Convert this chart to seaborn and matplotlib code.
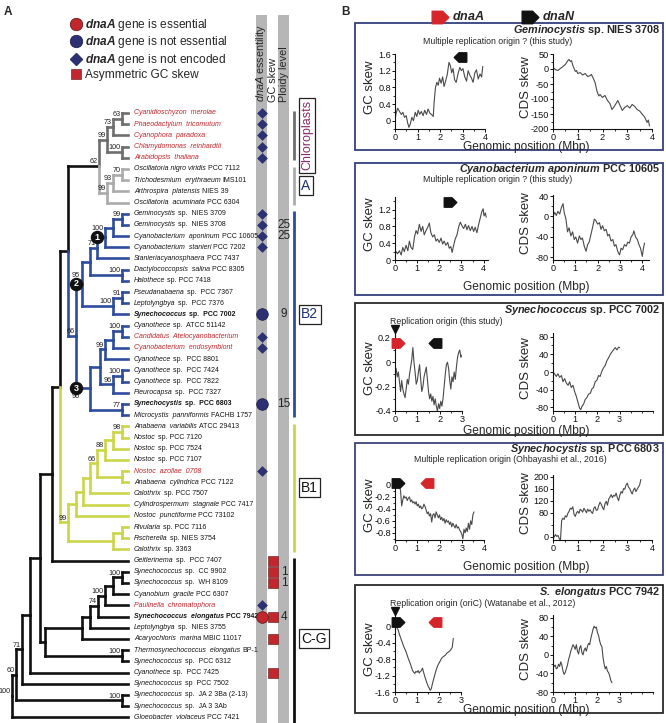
import numpy as np
import matplotlib
matplotlib.use("Agg")
import matplotlib.pyplot as plt
import seaborn as sns
from matplotlib import font_manager
from matplotlib.lines import Line2D
from matplotlib.patches import Rectangle
from matplotlib.path import Path
from matplotlib.ticker import MultipleLocator, FuncFormatter
from matplotlib.transforms import offset_copy

# --- DATA: panel A (tree leaves, top to bottom) ---
LEAF_ITALIC = [
    "Cyanidioschyzon  merolae", "Phaeodactylum  tricomutum", "Cyanophora  paradoxa",
    "Chlamydomonas  reinhardtii", "Arabidopsis  thaliana",
    "Oscillatoria nigro viridis", "Trichodesmium  erythraeum", "Arthrospira  platensis",
    "Oscillatoria  acuminata",
    "Geminocystis", "Geminocystis", "Cyanobacterium  aponinum", "Cyanobacterium  stanieri",
    "Stanieriacyanosphaera", "Dactylococcopsis  salina", "Halothece", "Pseudanabaena",
    "Leptolyngbya", "Synechococcus", "Cyanothece", "Candidatus  Atelocyanobacterium",
    "Cyanobacterium  endosymbiont", "Cyanothece", "Cyanothece", "Cyanothece", "Pleurocapsa",
    "Synechocystis", "Microcystis  panniformis",
    "Anabaena  variabilis", "Nostoc", "Nostoc", "Nostoc", "Nostoc  azollae  0708",
    "Anabaena  cylindrica", "Calothrix", "Cylindrospermum  stagnale", "Nostoc  punctiforme",
    "Rivularia", "Fischerella", "Calothrix",
    "Geitlerinema", "Synechococcus", "Synechococcus", "Cyanobium  gracile",
    "Paulinella  chromatophora", "Synechococcus  elongatus", "Leptolyngbya",
    "Acaryochloris  marina", "Thermosynechococcus  elongatus", "Synechococcus", "Cyanothece",
    "Synechococcus", "Synechococcus", "Synechococcus", "Gloeobacter  violaceus",
]
LEAF_STRAIN = [
    "", "", "", "", "",
    "PCC 7112", "IMS101", "NIES 39", "PCC 6304",
    "sp.  NIES 3709", "sp.  NIES 3708", "PCC 10605", "PCC 7202", "PCC 7437", "PCC 8305",
    "sp. PCC 7418", "sp.  PCC 7367", "sp.  PCC 7376", "sp.  PCC 7002", "sp.  ATCC 51142",
    "", "", "sp.  PCC 8801", "sp.  PCC 7424", "sp.  PCC 7822", "sp.  PCC 7327",
    "sp.  PCC 6803", "FACHB 1757",
    "ATCC 29413", "sp. PCC 7120", "sp. PCC 7524", "sp. PCC 7107", "", "PCC 7122",
    "sp. PCC 7507", "PCC 7417", "PCC 73102", "sp. PCC 7116", "sp. NIES 3754", "sp. 3363",
    "sp.  PCC 7407", "sp.  CC 9902", "sp.  WH 8109", "PCC 6307", "", "PCC 7942",
    "sp.  NIES 3755", "MBIC 11017", "BP-1", "sp.  PCC 6312", "sp.  PCC 7425",
    "sp  PCC 7502", "sp.  JA 2 3Ba (2-13)", "sp.  JA 3 3Ab", "PCC 7421",
]
RED_LEAVES = [0, 1, 2, 3, 4, 20, 21, 32, 44]
BOLD_LEAVES = [18, 26, 45]
LEAF_CLADE = ["chloro"] * 5 + ["A"] * 4 + ["B2"] * 19 + ["B1"] * 12 + ["CG"] * 15

DNAA_ABSENT = [0, 1, 2, 3, 4, 9, 10, 11, 12, 20, 21, 32, 44]
DNAA_NONESSENTIAL = [18, 26]
DNAA_ESSENTIAL = [45]
GC_ASYMMETRIC = [40, 41, 42, 45, 47, 50]
PLOIDY_ROWS = [10, 11, 18, 26, 41, 42, 45]
PLOIDY_VALUES = ["25", "25", "9", "15", "1", "1", "4"]

CLADE_NAMES = ["Chloroplasts", "A", "B2", "B1", "C-G"]
CLADE_KEYS = ["chloro", "A", "B2", "B1", "CG"]


def N(depth, boot, *kids, mark=None, side="above"):
    return {"x": depth, "bs": boot, "kids": list(kids), "mark": mark, "side": side}


CHLORO = N(107, 99, N(113, 73, N(122, 63, 0, 1), 2), N(122, 100, 3, 4))
ACLADE = N(107, 99, N(113, 93, N(122, 70, 5, 6), 7), 8)
B2_UP = N(82, 95,
          N(90, None,
            N(97, 71, N(105, 100, N(113, None, N(122, 99, 9, 10), 11), 12, mark=1), 13),
            N(122, 100, 14, 15)),
          N(113, 100, N(122, 91, 16, 17), 18), mark=2)
B2_LOW = N(90, 96,
           N(100, None,
             N(105, 99, N(113, None, N(122, 100, 19, 20), 21), 22),
             N(113, 96, N(122, 100, 23, 24), 25)),
           N(122, 77, 26, 27), mark=3, side="below")
B2 = N(76, 66, B2_UP, B2_LOW)
B1 = N(68, 99,
       N(76, None, N(83, None, N(90, None,
         N(97, 66, N(105, 88, N(113, None, N(122, 98, 28, 29), 30), 31), N(122, None, 32, 33)),
         34), 35), 36),
       N(113, None, N(122, None, 37, 38), 39))
SYN = N(82, None, N(90, None, N(98, 74, N(105, 100, N(113, None, N(122, 100, 41, 42), 43), 44), 45), 46), 47)
TREE = N(12, 100,
         N(16, 60,
           N(22, 71,
             N(30, None,
               N(40, None,
                 N(52, None, N(60, None, N(68, None, N(99, 62, CHLORO, ACLADE), B2), B1), 40),
                 N(45, None, SYN, N(122, 100, 48, 49))),
               50),
             51),
           N(122, 100, 52, 53)),
         54)

# --- DATA: panel B (genomic position in Mbp, skew value) ---
GEM_GC = [(0, 0.02), (0.05, 0.18), (0.12, 0.3), (0.2, 0.22), (0.28, 0.15), (0.35, 0.2), (0.42, 0.08),
          (0.5, 0.12), (0.56, -0.05), (0.62, -0.16), (0.68, -0.08), (0.75, 0.08), (0.82, 0.0), (0.9, 0.2),
          (0.97, 0.1), (1.03, 0.25), (1.1, 0.15), (1.17, 0.22), (1.25, 0.12), (1.32, 0.25), (1.4, 0.15),
          (1.47, 0.28), (1.55, 0.18), (1.62, 0.15), (1.7, 0.1), (1.74, 0.45), (1.8, 0.8), (1.86, 0.92),
          (1.92, 0.85), (1.98, 1.02), (2.05, 0.9), (2.12, 1.05), (2.18, 0.82), (2.25, 0.95), (2.32, 1.1),
          (2.4, 1.4), (2.46, 1.32), (2.52, 1.15), (2.58, 1.25), (2.65, 0.98), (2.72, 0.92), (2.8, 1.12),
          (2.88, 1.28), (2.95, 1.2), (3.02, 1.25), (3.1, 1.05), (3.18, 0.95), (3.25, 1.2), (3.32, 1.1),
          (3.4, 1.02), (3.47, 0.92), (3.55, 1.15), (3.62, 1.22), (3.7, 1.0), (3.78, 1.12), (3.85, 1.05),
          (3.9, 1.3)]
GEM_CDS = [(0, 5), (0.1, -2), (0.2, -5), (0.3, 2), (0.4, 8), (0.5, 15), (0.6, 28), (0.65, 32), (0.7, 25),
           (0.75, 28), (0.8, 12), (0.9, -8), (0.95, -5), (1.0, -15), (1.1, -12), (1.2, -20), (1.3, -15),
           (1.4, -25), (1.5, -22), (1.55, -18), (1.62, -30), (1.7, -45), (1.78, -75), (1.85, -90),
           (1.9, -85), (2.0, -95), (2.1, -88), (2.2, -105), (2.3, -115), (2.38, -135), (2.45, -128),
           (2.55, -115), (2.62, -105), (2.7, -120), (2.8, -138), (2.9, -128), (3.0, -122), (3.1, -130),
           (3.2, -118), (3.3, -125), (3.4, -135), (3.5, -140), (3.6, -150), (3.7, -160), (3.8, -178),
           (3.85, -170), (3.9, -190)]
APO_GC = [(0, 0.1), (0.05, 0.2), (0.12, 0.15), (0.2, 0.22), (0.28, 0.12), (0.35, 0.3), (0.42, 0.2),
          (0.5, 0.35), (0.58, 0.22), (0.65, 0.45), (0.72, 0.3), (0.8, 0.25), (0.88, 0.55), (0.95, 0.7),
          (1.02, 0.62), (1.1, 0.85), (1.18, 0.68), (1.25, 0.8), (1.32, 0.6), (1.4, 0.7), (1.48, 0.78),
          (1.55, 0.88), (1.62, 0.65), (1.7, 0.55), (1.78, 0.6), (1.85, 0.45), (1.92, 0.5), (2.0, 0.42),
          (2.08, 0.52), (2.15, 0.38), (2.22, 0.45), (2.3, 0.35), (2.38, 0.42), (2.45, 0.28), (2.52, 0.32),
          (2.58, 0.18), (2.65, 0.35), (2.72, 0.5), (2.8, 0.6), (2.88, 0.8), (2.95, 0.9), (3.02, 0.82),
          (3.1, 0.75), (3.18, 0.85), (3.25, 0.72), (3.32, 0.82), (3.4, 0.7), (3.48, 0.8), (3.55, 0.68),
          (3.62, 0.78), (3.7, 0.65), (3.78, 0.85), (3.85, 1.0), (3.92, 1.15), (3.98, 1.22), (4.02, 1.05),
          (4.08, 1.12), (4.12, 1.02)]
APO_CDS = [(0, 0), (0.08, 8), (0.15, 2), (0.22, 10), (0.3, 5), (0.38, 18), (0.45, 25), (0.5, 8), (0.58, -5),
           (0.65, -30), (0.72, -22), (0.8, -38), (0.88, -30), (0.95, -45), (1.02, -40), (1.1, -52),
           (1.18, -38), (1.25, -45), (1.32, -42), (1.4, -58), (1.48, -68), (1.55, -55), (1.62, -50),
           (1.7, -35), (1.78, -20), (1.85, -5), (1.92, -8), (2.0, -15), (2.08, -12), (2.15, -25),
           (2.22, -18), (2.3, -28), (2.38, -25), (2.45, -38), (2.52, -35), (2.6, -48), (2.68, -45),
           (2.75, -58), (2.82, -55), (2.9, -68), (2.98, -75), (3.05, -62), (3.12, -65), (3.2, -55),
           (3.28, -58), (3.35, -50), (3.42, -52), (3.5, -40), (3.58, -35), (3.62, -28), (3.7, -40),
           (3.78, -45), (3.85, -55), (3.92, -62), (4.0, -78), (4.05, -62), (4.1, -52)]
S7002_GC = [(0, -0.1), (0.05, -0.05), (0.1, -0.12), (0.15, -0.08), (0.2, -0.16), (0.25, -0.24), (0.3, -0.15),
            (0.35, -0.22), (0.4, -0.26), (0.45, -0.29), (0.5, -0.22), (0.55, -0.14), (0.6, -0.18),
            (0.65, -0.1), (0.7, -0.04), (0.75, 0.02), (0.8, 0.12), (0.85, 0.0), (0.9, -0.08), (0.95, -0.18),
            (1.0, -0.15), (1.05, -0.08), (1.1, -0.02), (1.15, -0.14), (1.2, -0.24), (1.25, -0.2),
            (1.3, -0.12), (1.35, -0.08), (1.4, -0.04), (1.45, -0.14), (1.5, -0.24), (1.55, -0.3),
            (1.6, -0.26), (1.65, -0.32), (1.7, -0.28), (1.75, -0.35), (1.8, -0.3), (1.85, -0.36),
            (1.9, -0.4), (1.95, -0.34), (2.0, -0.38), (2.05, -0.32), (2.1, -0.36), (2.15, -0.3),
            (2.2, -0.2), (2.25, -0.1), (2.3, -0.02), (2.35, 0.0), (2.4, -0.05), (2.45, -0.15),
            (2.5, -0.22), (2.55, -0.12), (2.6, -0.16), (2.65, -0.08), (2.7, -0.14), (2.75, -0.04),
            (2.8, 0.04), (2.85, 0.08), (2.9, 0.1), (2.95, 0.04), (3.0, 0.06)]
S7002_CDS = [(0, 0), (0.08, -5), (0.15, -10), (0.22, -4), (0.3, -12), (0.38, -8), (0.45, -22), (0.52, -15),
             (0.6, -25), (0.68, -30), (0.75, -22), (0.82, -35), (0.9, -30), (0.98, -45), (1.05, -55),
             (1.12, -68), (1.2, -82), (1.25, -85), (1.3, -78), (1.38, -72), (1.45, -62), (1.52, -58),
             (1.6, -50), (1.68, -48), (1.75, -38), (1.82, -35), (1.9, -22), (1.98, -18), (2.05, -8),
             (2.12, -10), (2.2, 2), (2.28, 10), (2.35, 15), (2.42, 25), (2.5, 32), (2.58, 40), (2.65, 45),
             (2.72, 50), (2.8, 55), (2.88, 50), (2.95, 56), (3.0, 55)]
S6803_GC = [(0, 0.05), (0.08, 0.06), (0.15, 0.02), (0.2, -0.02), (0.25, -0.1), (0.3, -0.35), (0.35, -0.25),
            (0.4, -0.18), (0.45, -0.22), (0.5, -0.2), (0.55, -0.26), (0.6, -0.22), (0.65, -0.2), (0.7, -0.28),
            (0.75, -0.25), (0.8, -0.3), (0.85, -0.28), (0.9, -0.32), (0.95, -0.28), (1.0, -0.35),
            (1.05, -0.32), (1.1, -0.38), (1.15, -0.35), (1.2, -0.4), (1.25, -0.38), (1.3, -0.32),
            (1.35, -0.36), (1.4, -0.42), (1.45, -0.48), (1.5, -0.45), (1.55, -0.52), (1.6, -0.48),
            (1.65, -0.62), (1.7, -0.5), (1.75, -0.48), (1.8, -0.55), (1.85, -0.45), (1.9, -0.5),
            (1.95, -0.55), (2.0, -0.5), (2.05, -0.58), (2.1, -0.54), (2.15, -0.6), (2.2, -0.56),
            (2.25, -0.64), (2.3, -0.58), (2.35, -0.62), (2.4, -0.6), (2.45, -0.66), (2.5, -0.62),
            (2.55, -0.7), (2.6, -0.64), (2.65, -0.68), (2.7, -0.72), (2.75, -0.66), (2.8, -0.72),
            (2.85, -0.7), (2.9, -0.75), (2.95, -0.78), (3.0, -0.82), (3.05, -0.9), (3.1, -0.74),
            (3.15, -0.8), (3.2, -0.72), (3.25, -0.78), (3.3, -0.64), (3.35, -0.74), (3.4, -0.6),
            (3.45, -0.66), (3.5, -0.5), (3.55, -0.45)]
S6803_CDS = [(0, 10), (0.05, 0), (0.1, 8), (0.15, 2), (0.2, 5), (0.25, -5), (0.3, -12), (0.35, 55), (0.4, 62),
             (0.45, 58), (0.5, 70), (0.55, 66), (0.6, 78), (0.65, 85), (0.7, 95), (0.75, 92), (0.8, 100),
             (0.85, 75), (0.9, 68), (0.95, 80), (1.0, 85), (1.05, 78), (1.1, 92), (1.15, 88), (1.2, 82),
             (1.25, 95), (1.3, 88), (1.35, 80), (1.4, 92), (1.45, 85), (1.5, 90), (1.55, 82), (1.6, 78),
             (1.65, 95), (1.7, 100), (1.75, 88), (1.8, 90), (1.85, 105), (1.9, 115), (1.95, 108), (2.0, 98),
             (2.05, 90), (2.1, 110), (2.15, 118), (2.2, 105), (2.25, 125), (2.3, 132), (2.35, 140),
             (2.4, 130), (2.45, 138), (2.5, 135), (2.55, 145), (2.6, 130), (2.65, 120), (2.7, 138),
             (2.75, 150), (2.8, 145), (2.85, 160), (2.9, 158), (2.95, 172), (3.0, 178), (3.05, 165),
             (3.1, 160), (3.15, 150), (3.2, 142), (3.25, 155), (3.3, 162), (3.35, 150), (3.4, 158),
             (3.45, 165), (3.5, 172), (3.55, 190)]
S7942_GC = [(0, 0.05), (0.05, 0.0), (0.1, -0.05), (0.15, -0.1), (0.2, -0.2), (0.3, -0.35), (0.4, -0.5),
            (0.5, -0.62), (0.6, -0.78), (0.7, -0.92), (0.8, -1.08), (0.85, -1.12), (0.9, -1.15), (0.95, -1.1),
            (1.0, -1.12), (1.05, -1.08), (1.1, -1.14), (1.15, -1.1), (1.2, -1.08), (1.25, -1.02),
            (1.3, -1.12), (1.35, -1.22), (1.4, -1.3), (1.45, -1.38), (1.5, -1.45), (1.55, -1.5),
            (1.6, -1.56), (1.65, -1.52), (1.7, -1.4), (1.75, -1.3), (1.8, -1.2), (1.85, -1.1),
            (1.9, -1.02), (1.95, -0.95), (2.0, -0.9), (2.05, -0.85), (2.1, -0.8), (2.15, -0.76),
            (2.2, -0.74), (2.25, -0.72), (2.3, -0.7), (2.35, -0.66), (2.4, -0.64), (2.45, -0.62),
            (2.5, -0.6), (2.55, -0.56), (2.6, -0.52), (2.65, -0.3)]
S7942_CDS = [(0, -18), (0.05, -25), (0.1, -22), (0.15, -30), (0.2, -28), (0.25, -20), (0.3, -25), (0.35, -15),
             (0.4, -22), (0.45, -35), (0.5, -42), (0.55, -38), (0.6, -30), (0.65, -22), (0.7, -10),
             (0.75, -2), (0.8, 8), (0.85, 15), (0.9, 22), (0.95, 18), (1.0, 12), (1.05, 22), (1.1, 8),
             (1.15, 2), (1.2, 15), (1.25, 20), (1.3, 5), (1.35, 0), (1.4, 10), (1.45, 15), (1.5, 8),
             (1.55, 18), (1.6, 25), (1.65, 22), (1.7, 35), (1.75, 45), (1.8, 55), (1.85, 62), (1.9, 58),
             (1.95, 60), (2.0, 48), (2.05, 42), (2.1, 30), (2.15, 22), (2.2, 18), (2.25, -5), (2.3, -20),
             (2.35, -30), (2.4, -25), (2.45, -35), (2.5, -38), (2.55, -45), (2.6, -55), (2.65, -60)]

GC_CURVES = [GEM_GC, APO_GC, S7002_GC, S6803_GC, S7942_GC]
CDS_CURVES = [GEM_CDS, APO_CDS, S7002_CDS, S6803_CDS, S7942_CDS]
TITLE_GENUS = ["Geminocystis", "Cyanobacterium\\ aponinum", "Synechococcus", "Synechocystis", "S.\\ elongatus"]
TITLE_STRAIN = ["sp. NIES 3708", "PCC 10605", "sp. PCC 7002", "sp. PCC 6803", "PCC 7942"]
NOTES = ["Multiple replication origin ? (this study)", "Multiple replication origin ? (this study)",
         "Replication origin (this study)", "Multiple replication origin (Ohbayashi et al., 2016)",
         "Replication origin (oriC) (Watanabe et al., 2012)"]
ORIGIN_AT_ZERO = [False, False, True, False, True]
# gene, position (Mbp), skew level, orientation
GENE_MARKS = [
    [("dnaN", 2.9, 1.52, "L")],
    [("dnaN", 2.5, 1.38, "R")],
    [("dnaA", 0.12, 0.16, "R"), ("dnaN", 1.8, 0.16, "L")],
    [("dnaN", 0.15, 0.03, "R"), ("dnaA", 1.45, 0.03, "L")],
    [("dnaN", 0.15, 0.09, "R"), ("dnaA", 1.8, 0.09, "L")],
]
GC_YTICKS = [[0, 0.4, 0.8, 1.2, 1.6], [0, 0.4, 0.8, 1.2], [-0.4, -0.2, 0, 0.2],
             [-0.8, -0.6, -0.4, -0.2, 0], [-1.6, -1.2, -0.8, -0.4, 0]]
CDS_YTICKS = [[-200, -150, -100, -50, 0, 50], [-80, -40, 0, 40], [-80, -40, 0, 40, 80],
              [0, 80, 120, 160, 200], [-80, -40, 0, 40, 80]]
GC_XTICKS = [4, 4, 3, 4, 3]
CDS_XTICKS = [4, 4, 3, 4, 3]

# --- STYLE / LAYOUT ---
sns.set_theme(style="ticks")
plt.rcParams["font.family"] = ["Liberation Sans", "DejaVu Sans"]
plt.rcParams["mathtext.fontset"] = "custom"
plt.rcParams["mathtext.rm"] = "Liberation Sans"
plt.rcParams["mathtext.it"] = "Liberation Sans:italic"
plt.rcParams["mathtext.bf"] = "Liberation Sans:bold"
plt.rcParams["mathtext.bfit"] = "Liberation Sans:bold:italic"

_installed = {f.name for f in font_manager.fontManager.ttflist}
NARROW = "Liberation Sans Narrow" if "Liberation Sans Narrow" in _installed else "Liberation Sans"
LEAF_SIZE = 5.8 if NARROW == "Liberation Sans Narrow" else 5.0

RED = "#c1272d"
NAVY = "#2b3173"
CLADE_COLORS = {"chloro": "#6e6e6e", "A": "#ababab", "B2": "#2e4c9e", "B1": "#cbd54a", "CG": "#111111"}
CLADE_TEXT = ["#8a2c70", "#1f2f73", "#1f2f73", "#111111", "#111111"]
W, H = 666, 723
ROW0, ROW_H = 113, 11.19
TIP_X = 128

fig = plt.figure(figsize=(W / 100, H / 100), dpi=100)


def px_axes(l, t, r, b, **kw):
    return fig.add_axes([l / W, 1 - b / H, (r - l) / W, (b - t) / H], **kw)


ov = px_axes(0, 0, W, H)
ov.set_xlim(0, W)
ov.set_ylim(H, 0)
ov.axis("off")

tr = px_axes(0, 0, 340, H)
tr.set_xlim(0, 340)
tr.set_ylim((H - ROW0) / ROW_H, -ROW0 / ROW_H)
tr.axis("off")


# ---------- tree ----------
def place(node):
    if isinstance(node, int):
        return node
    ys = [place(k) for k in node["kids"]]
    node["y"] = (ys[0] + ys[-1]) / 2
    return node["y"]


def node_y(n):
    return n if isinstance(n, int) else n["y"]


def node_x(n):
    return TIP_X if isinstance(n, int) else n["x"]


def node_color(n):
    if isinstance(n, int):
        return CLADE_COLORS[LEAF_CLADE[n]]
    cols = {node_color(k) for k in n["kids"]}
    return cols.pop() if len(cols) == 1 else CLADE_COLORS["CG"]


def draw(node, parent_x=None):
    x, y = node["x"], node["y"]
    for kid in node["kids"]:
        c = node_color(kid)
        ky = node_y(kid)
        tr.plot([x, node_x(kid)], [ky, ky], color=c, lw=1.9, solid_capstyle="projecting")
        tr.plot([x, x], [y, ky], color=c, lw=1.9, solid_capstyle="projecting")
        if not isinstance(kid, int):
            draw(kid, x)
    if node["mark"] is not None:
        tr.scatter([parent_x], [y], s=75, color="#111111", zorder=6)
        tr.text(parent_x, y, str(node["mark"]), color="white", fontsize=6.5, fontweight="bold",
                ha="center", va="center", zorder=7)
        dy = 6.2 if node["side"] == "above" else -6.2
        tr.annotate(str(node["bs"]), (parent_x, y), xytext=(0, dy), textcoords="offset points",
                    ha="center", va="center", fontsize=5.2, color="#222222")
    elif node["bs"] is not None:
        tr.annotate(str(node["bs"]), (x, y), xytext=(-1, 0.6), textcoords="offset points",
                    ha="right", va="bottom", fontsize=5.2, color="#222222")


place(TREE)
draw(TREE)

# leaf labels: italic name followed by upright strain
for i, (it, rm) in enumerate(zip(LEAF_ITALIC, LEAF_STRAIN)):
    col = RED if i in RED_LEAVES else "#151515"
    wt = "bold" if i in BOLD_LEAVES else "normal"
    t = tr.annotate(it, (TIP_X + 6, i), ha="left", va="center", fontsize=LEAF_SIZE, style="italic",
                    family=NARROW, color=col, fontweight=wt)
    if rm:
        tr.annotate(rm, (1, 0), xycoords=t, xytext=(1.5, 0), textcoords="offset points",
                    ha="left", va="bottom", fontsize=LEAF_SIZE, family=NARROW, color=col, fontweight=wt)

# columns: dnaA essentiality, GC skew, ploidy
tr.axvspan(256, 267, ymin=0, ymax=1 - 15 / H, color="#b6b6b6", lw=0, zorder=0)
tr.axvspan(278, 289, ymin=0, ymax=1 - 15 / H, color="#b6b6b6", lw=0, zorder=0)
tr.text(261.5, -1.0, r"$\mathit{dnaA}$ essentility", rotation=90, ha="center", va="bottom", fontsize=7.8)
tr.text(273, -1.0, "GC skew", rotation=90, ha="center", va="bottom", fontsize=7.8)
tr.text(284, -1.0, "Ploidy level", rotation=90, ha="center", va="bottom", fontsize=7.8)

tr.scatter([261.5] * len(DNAA_ABSENT), DNAA_ABSENT, marker="D", s=30, color=NAVY, lw=0, zorder=4)
tr.scatter([261.5] * len(DNAA_NONESSENTIAL), DNAA_NONESSENTIAL, marker="o", s=70, color=NAVY,
           edgecolor="#1a1a40", lw=0.5, zorder=4)
tr.scatter([261.5] * len(DNAA_ESSENTIAL), DNAA_ESSENTIAL, marker="o", s=70, color=RED,
           edgecolor="#5a1010", lw=0.5, zorder=4)
tr.scatter([273] * len(GC_ASYMMETRIC), GC_ASYMMETRIC, marker="s", s=42, color=RED,
           edgecolor="#5a1010", lw=0.4, zorder=4)
for row, val in zip(PLOIDY_ROWS, PLOIDY_VALUES):
    tr.text(284, row, val, ha="center", va="center", fontsize=8.5, color="#222222")

# clade bars and boxed names
for k, (name, key) in enumerate(zip(CLADE_NAMES, CLADE_KEYS)):
    rows = [i for i, c in enumerate(LEAF_CLADE) if c == key]
    bottom = tr.get_ylim()[0] if key == "CG" else rows[-1] + 0.2
    tr.plot([294, 294], [rows[0] - 0.2, bottom], color=CLADE_COLORS[key], lw=2.0, solid_capstyle="butt")
    rot = 90 if name == "Chloroplasts" else 0
    tr.text(301, np.mean(rows), name, rotation=rot, ha="left", va="center",
            fontsize=9 if rot else 10, color=CLADE_TEXT[k],
            bbox=dict(boxstyle="square,pad=0.18", fc="white", ec="#222222", lw=0.9))

handles = [
    Line2D([], [], ls="", marker="o", ms=9, mfc=RED, mec="#5a1010", mew=0.5),
    Line2D([], [], ls="", marker="o", ms=9, mfc=NAVY, mec="#1a1a40", mew=0.5),
    Line2D([], [], ls="", marker="D", ms=6, mfc=NAVY, mec=NAVY),
    Line2D([], [], ls="", marker="s", ms=7.5, mfc=RED, mec="#5a1010", mew=0.4),
]
labels = [r"$\mathbfit{dnaA}$ gene is essential", r"$\mathbfit{dnaA}$ gene is not essential",
          r"$\mathbfit{dnaA}$ gene is not encoded", "Asymmetric GC skew"]
tr.legend(handles, labels, loc="upper left", bbox_to_anchor=(70 / 340, 1 - 17 / H), frameon=False,
          fontsize=8.6, handletextpad=0.25, labelspacing=0.12, handlelength=1.0, borderpad=0,
          borderaxespad=0)

ov.text(8, 12, "A", fontsize=8.5, fontweight="bold", ha="center", va="center")
ov.text(346, 12, "B", fontsize=8.5, fontweight="bold", ha="center", va="center")

# ---------- panel B ----------
ARROW_R = Path([(-1, -0.75), (0.25, -0.75), (1, 0), (0.25, 0.75), (-1, 0.75), (-1, -0.75)],
               [Path.MOVETO, Path.LINETO, Path.LINETO, Path.LINETO, Path.LINETO, Path.CLOSEPOLY])
ARROW_L = Path(ARROW_R.vertices * np.array([-1, 1]), ARROW_R.codes)
GENE_COLORS = {"dnaA": "#d7262b", "dnaN": "#111111"}

ov.plot([440], [17], marker=ARROW_R, ms=12, color=GENE_COLORS["dnaA"], ls="")
ov.text(452, 17, r"$\mathbfit{dnaA}$", fontsize=9, va="center", ha="left")
ov.plot([530], [17], marker=ARROW_R, ms=12, color=GENE_COLORS["dnaN"], ls="")
ov.text(542, 17, r"$\mathbfit{dnaN}$", fontsize=9, va="center", ha="left")

BOXES = [(23, 150), (163, 295), (303, 435), (443, 575), (585, 713)]
BOX_EDGE = ["#34407f", "#34407f", "#2a2a2a", "#3b4278", "#2a2a2a"]
GC_RECT = [(395, 54, 485, 129), (395, 197, 488, 260), (395, 333, 462, 411), (395, 479, 484, 540),
           (395, 615, 461, 692)]
CDS_RECT = [(553, 54, 652, 129), (553, 195, 649, 260), (553, 333, 653, 411), (553, 475, 652, 540),
            (553, 615, 653, 692)]
GC_YLIM = [(-0.2, 1.6), (0, 1.5), (-0.4, 0.24), (-0.92, 0.1), (-1.6, 0.27)]
CDS_YLIM = [(-200, 50), (-85, 42), (-88, 88), (-10, 205), (-80, 86)]
GC_XLIM = [4.0, 4.2, 3.0, 4.0, 3.0]
CDS_XLIM = [4.0, 4.3, 4.5, 4.0, 4.5]
TITLE_DY = [7, 6, 7, 6, 7]
NOTE_POS = [(498, "center", 19), (498, "center", 17), (390, "left", 19), (510, "center", 16),
            (390, "left", 18)]
XLABEL_DY = [3, 8, 4, 8, 3]

fmt = FuncFormatter(lambda v, _: f"{v:g}")


def style(ax, xlim, ylim, nx, yticks):
    sns.despine(ax=ax)
    ax.set_facecolor("none")
    ax.set_xlim(0, xlim)
    ax.set_ylim(*ylim)
    ax.set_xticks(range(nx + 1))
    ax.set_yticks(yticks)
    ax.xaxis.set_minor_locator(MultipleLocator(0.5))
    step = yticks[1] - yticks[0]
    ax.yaxis.set_minor_locator(MultipleLocator(step / 2))
    ax.xaxis.set_major_formatter(fmt)
    ax.yaxis.set_major_formatter(fmt)
    ax.tick_params(which="major", labelsize=6.6, length=2.4, width=0.7, pad=0.6, colors="#111111")
    ax.tick_params(which="minor", length=1.4, width=0.6, colors="#111111")
    for sp in ("left", "bottom"):
        ax.spines[sp].set_linewidth(0.8)
        ax.spines[sp].set_color("#111111")
    ax.set_xlabel("")
    ax.set_ylabel("")


for p in range(5):
    top, bot = BOXES[p]
    ov.add_patch(Rectangle((355, top), 663 - 355, bot - top, fill=False, ec=BOX_EDGE[p], lw=1.3))
    ov.text(660, top + TITLE_DY[p], rf"$\mathbfit{{{TITLE_GENUS[p]}}}$ {TITLE_STRAIN[p]}", ha="right",
            va="center", fontsize=7.8, fontweight="bold")
    nx_, nha, ndy = NOTE_POS[p]
    ov.text(nx_, top + ndy, NOTES[p], ha=nha, va="center", fontsize=6.3)
    ov.text(526, bot - XLABEL_DY[p], "Genomic position (Mbp)", ha="center", va="center", fontsize=8.6)

    l, t, r, b = GC_RECT[p]
    ax = px_axes(l, t, r, b)
    gx, gy = np.array(GC_CURVES[p]).T
    sns.lineplot(x=gx, y=gy, ax=ax, color="#4a4a4a", lw=0.8, sort=False, errorbar=None)
    style(ax, GC_XLIM[p], GC_YLIM[p], GC_XTICKS[p], GC_YTICKS[p])
    ov.text(l - 25, (t + b) / 2 - 4, "GC skew", rotation=90, ha="center", va="center", fontsize=9.5)
    for gene, gpos, glev, orient in GENE_MARKS[p]:
        ax.plot([gpos], [glev], marker=ARROW_R if orient == "R" else ARROW_L, ms=9,
                color=GENE_COLORS[gene], ls="", clip_on=False, zorder=5)
    if ORIGIN_AT_ZERO[p]:
        trans = offset_copy(ax.get_xaxis_transform(), fig=fig, y=4, units="dots")
        ax.plot([0], [1], marker="v", ms=6, color="#111111", ls="", transform=trans, clip_on=False)

    l, t, r, b = CDS_RECT[p]
    ax = px_axes(l, t, r, b)
    cx, cy = np.array(CDS_CURVES[p]).T
    sns.lineplot(x=cx, y=cy, ax=ax, color="#4a4a4a", lw=0.8, sort=False, errorbar=None)
    style(ax, CDS_XLIM[p], CDS_YLIM[p], CDS_XTICKS[p], CDS_YTICKS[p])
    ov.text(l - 27, (t + b) / 2 - 4, "CDS skew", rotation=90, ha="center", va="center", fontsize=9.5)

fig.savefig("out.png", dpi=100)
